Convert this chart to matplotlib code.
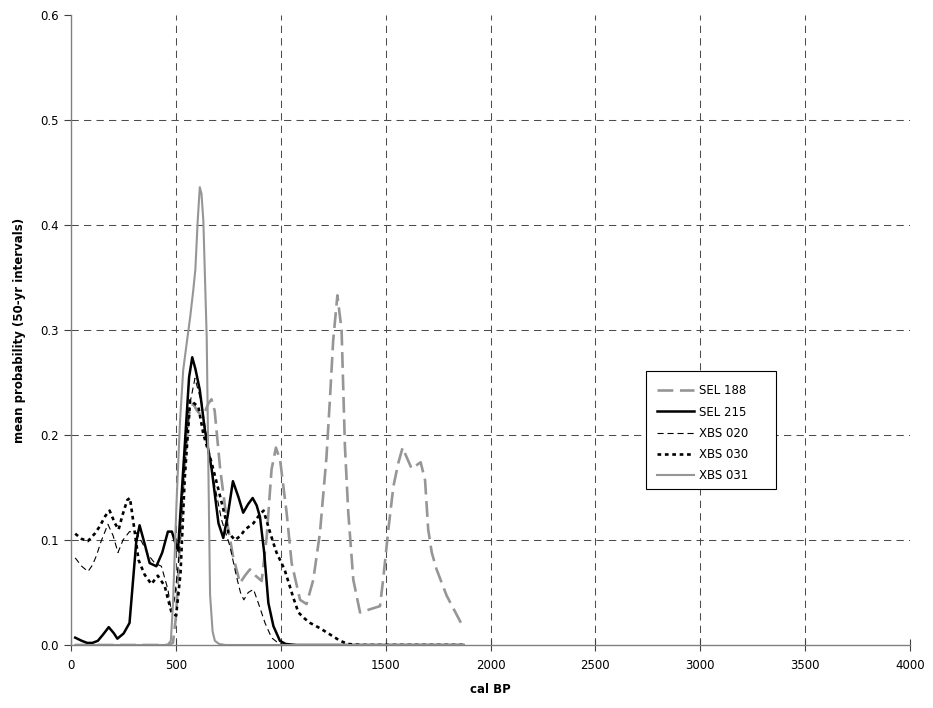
import numpy as np
import matplotlib
matplotlib.use("Agg")
import matplotlib.pyplot as plt
from matplotlib.patches import Rectangle

# mean calibrated probabilities per sample (cal BP vs probability)
sel188_x = [20, 460, 486, 501, 517, 537, 563, 583, 598, 614, 634, 655, 670, 685, 711, 742, 772,
            806, 829, 853, 880, 909, 933, 956, 977, 997, 1028, 1052, 1092, 1123, 1155, 1187,
            1218, 1235, 1250, 1270, 1290, 1306, 1322, 1346, 1378, 1425, 1473, 1488, 1513, 1537,
            1560, 1581, 1600, 1624, 1667, 1688, 1703, 1720, 1743, 1791, 1862]
sel188_y = [0.0, 0.0, 0.002, 0.028, 0.088, 0.158, 0.220, 0.230, 0.224, 0.220, 0.220, 0.230, 0.234,
            0.223, 0.168, 0.120, 0.085, 0.059, 0.066, 0.072, 0.066, 0.061, 0.103, 0.167, 0.188,
            0.176, 0.126, 0.078, 0.043, 0.039, 0.062, 0.107, 0.179, 0.236, 0.290, 0.333, 0.300,
            0.189, 0.126, 0.062, 0.031, 0.034, 0.037, 0.062, 0.110, 0.151, 0.173, 0.188, 0.179,
            0.168, 0.174, 0.157, 0.110, 0.088, 0.072, 0.047, 0.020]

sel215_x = [20, 51, 77, 102, 128, 153, 180, 205, 221, 251, 279, 311, 327, 353, 375, 407, 435,
            462, 481, 496, 510, 537, 563, 578, 593, 614, 638, 671, 703, 726, 747, 772, 798, 821,
            844, 866, 885, 901, 921, 941, 965, 996, 1023, 1074, 1870]
sel215_y = [0.007, 0.004, 0.002, 0.002, 0.004, 0.010, 0.017, 0.011, 0.006, 0.011, 0.021, 0.098,
            0.114, 0.095, 0.078, 0.075, 0.088, 0.108, 0.108, 0.098, 0.090, 0.173, 0.255, 0.274,
            0.263, 0.243, 0.205, 0.167, 0.116, 0.102, 0.123, 0.156, 0.141, 0.126, 0.134, 0.140,
            0.133, 0.122, 0.088, 0.040, 0.018, 0.004, 0.001, 0.0, 0.0]

xbs020_x = [20, 51, 81, 102, 121, 144, 176, 201, 224, 248, 279, 311, 338, 368, 399, 431, 462,
            478, 493, 512, 537, 563, 591, 623, 655, 686, 718, 758, 788, 808, 824, 845, 870, 893,
            925, 956, 987, 1023, 1870]
xbs020_y = [0.083, 0.075, 0.070, 0.076, 0.085, 0.099, 0.115, 0.104, 0.088, 0.100, 0.108, 0.107,
            0.098, 0.086, 0.078, 0.075, 0.053, 0.032, 0.043, 0.078, 0.158, 0.226, 0.254, 0.230,
            0.186, 0.151, 0.119, 0.094, 0.066, 0.050, 0.043, 0.050, 0.053, 0.040, 0.021, 0.007,
            0.002, 0.0, 0.0]

xbs030_x = [20, 51, 81, 113, 137, 164, 184, 209, 227, 246, 268, 281, 291, 307, 322, 351, 383,
            414, 447, 462, 478, 501, 522, 542, 568, 588, 607, 631, 671, 703, 735, 750, 782, 808,
            830, 870, 895, 918, 948, 965, 980, 1018, 1043, 1060, 1084, 1115, 1140, 1187, 1235,
            1283, 1320, 1381, 1870]
xbs030_y = [0.106, 0.101, 0.099, 0.106, 0.113, 0.123, 0.128, 0.116, 0.110, 0.124, 0.138, 0.140,
            0.126, 0.103, 0.081, 0.067, 0.058, 0.066, 0.056, 0.044, 0.032, 0.028, 0.068, 0.158,
            0.233, 0.230, 0.227, 0.201, 0.173, 0.148, 0.122, 0.107, 0.100, 0.104, 0.110, 0.116,
            0.123, 0.128, 0.108, 0.097, 0.088, 0.072, 0.056, 0.045, 0.031, 0.025, 0.021, 0.016,
            0.010, 0.004, 0.001, 0.0, 0.0]

xbs031_x = [20, 460, 476, 486, 503, 520, 535, 552, 568, 583, 593, 604, 614, 622, 631, 639, 647,
            655, 663, 675, 686, 706, 737, 1870]
xbs031_y = [0.0, 0.0, 0.004, 0.038, 0.135, 0.214, 0.262, 0.288, 0.312, 0.338, 0.358, 0.404,
            0.436, 0.430, 0.404, 0.348, 0.293, 0.168, 0.048, 0.013, 0.004, 0.001, 0.0, 0.0]

x_ticks = [0, 500, 1000, 1500, 2000, 2500, 3000, 3500, 4000]
y_ticks = [0.0, 0.1, 0.2, 0.3, 0.4, 0.5, 0.6]

gray = "#969696"
grid_color = "#4d4d4d"

fig = plt.figure(figsize=(9.33, 7.08), dpi=100)
ax = fig.add_axes([71 / 933, 63 / 708, 839 / 933, 630 / 708])

# dashed grid, none along the top edge or the right edge
for xv in x_ticks[1:-1]:
    ax.axvline(xv, color=grid_color, linestyle=(0, (7, 5)), linewidth=0.75, zorder=1)
for yv in y_ticks[1:-1]:
    ax.axhline(yv, color=grid_color, linestyle=(0, (7, 5)), linewidth=0.75, zorder=1)

ax.plot(sel188_x, sel188_y, color=gray, lw=1.9, linestyle=(0, (6, 2.5)), label="SEL 188")
ax.plot(sel215_x, sel215_y, color="black", lw=1.8, label="SEL 215")
ax.plot(xbs020_x, xbs020_y, color="black", lw=0.8, linestyle=(0, (5.5, 3.5)), label="XBS 020")
ax.plot(xbs030_x, xbs030_y, color="black", lw=1.9, linestyle=(0, (1.4, 1.4)), label="XBS 030")
ax.plot(xbs031_x, xbs031_y, color=gray, lw=1.5, label="XBS 031")

ax.set_xlim(0, 4000)
ax.set_ylim(0, 0.6)
ax.set_xticks(x_ticks)
ax.set_yticks(y_ticks)
ax.set_yticklabels([f"{v:.1f}" for v in y_ticks])
ax.set_xticklabels([str(v) for v in x_ticks])

for side in ["top", "right"]:
    ax.spines[side].set_visible(False)
for side in ["left", "bottom"]:
    ax.spines[side].set_color("#808080")
    ax.spines[side].set_linewidth(1.0)

ax.tick_params(axis="x", direction="inout", length=8, color="#404040", labelsize=8.5, pad=6)
ax.tick_params(axis="y", direction="out", length=5, color="#404040", labelsize=8.5, pad=4)

ax.set_xlabel("cal BP", fontsize=8.5, fontweight="bold", labelpad=8)
ax.set_ylabel("mean probability (50-yr intervals)", fontsize=8.5, fontweight="bold", labelpad=10)

# legend box with extra room on the right
box_l, box_r, box_t, box_b = 646, 776, 371, 489
to_ax = lambda px, py: ((px - 71) / 839, (645 - py) / 630)
bx, by = to_ax(box_l, box_b)
bw = (box_r - box_l) / 839
bh = (box_b - box_t) / 630
ax.add_patch(Rectangle((bx, by), bw, bh, transform=ax.transAxes, facecolor="white",
                       edgecolor="black", linewidth=0.8, zorder=4.5, clip_on=False))
lx, ly = to_ax(box_l + 3, box_t + 5)
ax.legend(loc="upper left", bbox_to_anchor=(lx, ly), fontsize=8.5, frameon=False,
          handlelength=3.1, handletextpad=0.45, labelspacing=0.7, borderpad=0.7,
          borderaxespad=0)

fig.savefig("out.png", dpi=100)
